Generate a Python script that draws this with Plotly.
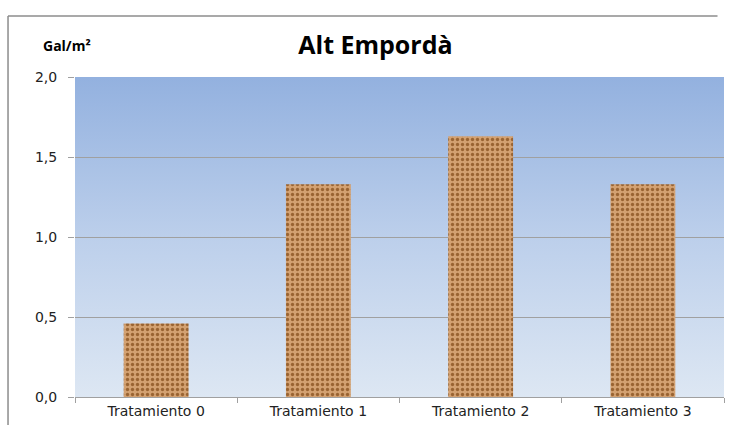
import base64
import plotly.graph_objects as go

# Data
categories = ["Tratamiento 0", "Tratamiento 1", "Tratamiento 2", "Tratamiento 3"]
values = [0.46, 1.33, 1.63, 1.33]
title_text = "Alt Empordà"
y_label = "Gal/m²"

# Vertical blue gradient for the plotting area
grad_svg = (
    '<svg xmlns="http://www.w3.org/2000/svg" width="100" height="100" preserveAspectRatio="none">'
    '<defs><linearGradient id="g" x1="0" y1="0" x2="0" y2="1">'
    '<stop offset="0" stop-color="#93b1df"/>'
    '<stop offset="0.5" stop-color="#bccfeb"/>'
    '<stop offset="1" stop-color="#dde7f3"/>'
    '</linearGradient></defs>'
    '<rect width="100" height="100" fill="url(#g)"/></svg>'
)
grad_uri = "data:image/svg+xml;base64," + base64.b64encode(grad_svg.encode()).decode()

fig = go.Figure()
fig.add_trace(go.Bar(
    x=categories,
    y=values,
    marker=dict(
        color="#c99462",
        line=dict(width=0),
        pattern=dict(shape=".", fgcolor="#9a6432", bgcolor="#d3a171",
                     size=5, solidity=0.35, fillmode="replace"),
    ),
    hoverinfo="x+y",
))

# outer chart frame: top and left edges drawn as plain lines in paper space
frame = dict(color="#8c8c8c", width=1.5)
fig.add_shape(type="line", xref="paper", yref="paper", x0=-0.1032, x1=0.99, y0=1.1906, y1=1.1906,
              line=frame, layer="below")
fig.add_shape(type="line", xref="paper", yref="paper", x0=-0.1032, x1=-0.1032, y0=-0.0875, y1=1.1906,
              line=frame, layer="below")

fig.update_layout(
    width=729, height=425,
    margin=dict(l=75, r=5, t=77, b=28),
    paper_bgcolor="white",
    plot_bgcolor="rgba(0,0,0,0)",
    separators=",.",
    bargap=0.6,
    showlegend=False,
    title=dict(text=title_text, x=0.515, xanchor="center", y=0.894, yanchor="middle",
               font=dict(family="Open Sans", size=25, color="black", weight="bold")),
    font=dict(family="DejaVu Sans", size=14, color="#222222"),
    images=[dict(source=grad_uri, xref="x domain", yref="y domain", x=0, y=1,
                 sizex=1, sizey=1, sizing="stretch", layer="below", xanchor="left", yanchor="top")],
    annotations=[dict(text="<b>" + y_label + "</b>", xref="paper", yref="paper",
                      x=-0.0123, y=1.097, xanchor="center", yanchor="middle", showarrow=False,
                      font=dict(family="Open Sans", size=14, color="black"))],
)

fig.update_yaxes(range=[0, 2], dtick=0.5, tickformat=".1f",
                 showgrid=True, gridcolor="#a0a0a0", gridwidth=1,
                 showline=False, zeroline=False,
                 ticks="outside", ticklen=6, tickcolor="#a0a0a0",
                 ticklabelstandoff=8,
                 tickfont=dict(family="DejaVu Sans", size=14, color="#222222"))
fig.update_xaxes(showline=True, linecolor="#a0a0a0", linewidth=1,
                 ticks="outside", tickson="boundaries", ticklen=5, tickcolor="#a0a0a0",
                 showgrid=False, ticklabelstandoff=1,
                 tickfont=dict(family="DejaVu Sans", size=14, color="#222222"))

fig.write_html("out.html")
